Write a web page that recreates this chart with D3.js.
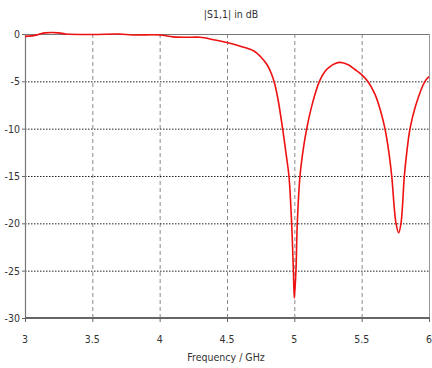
<!DOCTYPE html>
<html><head><meta charset="utf-8">
<script src="https://cdn.jsdelivr.net/npm/d3@7"></script>
<style>body{margin:0;background:#fff} text{font-family:'DejaVu Sans',sans-serif;font-size:11px;fill:#333}</style>
</head><body>
<svg id="c" width="432" height="368"></svg>
<script>
const freq = [3.0,3.05,3.1,3.15,3.25,3.3,3.5,3.7,3.8,4.0,4.1,4.2,4.3,4.4,4.5,4.6,4.7,4.75,4.8,4.83,4.855,4.88,4.913,4.94,4.96,4.98,4.993,5.0,5.012,5.022,5.042,5.065,5.092,5.135,5.186,5.23,5.265,5.3,5.34,5.4,5.45,5.5,5.55,5.6,5.64,5.673,5.7,5.723,5.755,5.775,5.792,5.817,5.835,5.859,5.9,5.97,6.0];
const s11  = [-0.25,-0.2,-0.05,0.12,0.12,0,-0.05,0,-0.1,-0.1,-0.3,-0.35,-0.35,-0.6,-0.9,-1.3,-1.8,-2.4,-3.3,-4.2,-5.3,-7.0,-10,-12.8,-15,-20,-25,-27.9,-25,-20,-15,-12.3,-10,-7.3,-5,-3.9,-3.45,-3.15,-3.0,-3.25,-3.75,-4.3,-5.1,-6.4,-8.1,-10,-12.3,-15,-20,-21,-20,-15,-12.5,-10,-7.6,-5,-4.5];
const xTicks = [3,3.5,4,4.5,5,5.5,6];
const xTickLabels = ["3","3.5","4","4.5","5","5.5","6"];
const yTicks = [0,-5,-10,-15,-20,-25,-30];
const yTickLabels = ["0","-5","-10","-15","-20","-25","-30"];
const title = "|S1,1| in dB";
const xLabel = "Frequency / GHz";

const svg = d3.select("#c");
const L=25,R=429,T=34,B=318;
const x = d3.scaleLinear().domain([3,6]).range([L,R]);
const y = d3.scaleLinear().domain([-30,0]).range([B,T]);
const SX = 0.86;
const place = (tx,ty)=>`translate(${tx},${ty}) scale(${SX},1)`;

// vertical grid
svg.append("g").selectAll("line").data(xTicks.slice(1,-1)).join("line")
  .attr("x1",d=>x(d)+0.5).attr("x2",d=>x(d)+0.5).attr("y1",T).attr("y2",B)
  .attr("stroke","#8a8a8a").attr("stroke-width",1).attr("stroke-dasharray","4,3");
// horizontal grid
svg.append("g").selectAll("line").data(yTicks.slice(1,-1)).join("line")
  .attr("x1",L).attr("x2",R).attr("y1",d=>y(d)+0.5).attr("y2",d=>y(d)+0.5)
  .attr("stroke","#222").attr("stroke-width",1).attr("stroke-dasharray","1.5,1.5");

// frame
svg.append("line").attr("x1",L).attr("x2",R).attr("y1",T+0.5).attr("y2",T+0.5).attr("stroke","#777").attr("stroke-width",1.2);
svg.append("line").attr("x1",R+0.5).attr("x2",R+0.5).attr("y1",T).attr("y2",B).attr("stroke","#999").attr("stroke-width",1);
svg.append("line").attr("x1",L+0.5).attr("x2",L+0.5).attr("y1",T).attr("y2",B).attr("stroke","#777").attr("stroke-width",1.2);
svg.append("line").attr("x1",L).attr("x2",R+1).attr("y1",B).attr("y2",B).attr("stroke","#666").attr("stroke-width",2);

// ticks
svg.append("g").selectAll("line").data(xTicks).join("line")
  .attr("x1",d=>x(d)+0.5).attr("x2",d=>x(d)+0.5).attr("y1",B).attr("y2",B+4)
  .attr("stroke","#666").attr("stroke-width",1);
svg.append("g").selectAll("line").data(yTicks).join("line")
  .attr("x1",L-3).attr("x2",L).attr("y1",d=>y(d)+0.5).attr("y2",d=>y(d)+0.5)
  .attr("stroke","#666").attr("stroke-width",1);

// tick labels
svg.append("g").selectAll("text").data(xTicks).join("text")
  .attr("transform",d=>place(x(d),B+25)).attr("text-anchor","middle")
  .text((d,i)=>xTickLabels[i]);
svg.append("g").selectAll("text").data(yTicks).join("text")
  .attr("transform",d=>place(L-5,y(d)+4)).attr("text-anchor","end")
  .text((d,i)=>yTickLabels[i]);

// curve
const line = d3.line().x((d,i)=>x(freq[i])).y((d,i)=>y(s11[i])).curve(d3.curveCatmullRom.alpha(0.5));
svg.append("path").datum(s11).attr("d",line).attr("fill","none")
  .attr("stroke","#ee1111").attr("stroke-width",1.6);

// title & label
svg.append("text").attr("transform",place(231,18)).attr("text-anchor","middle").text(title);
svg.append("text").attr("transform",place(226,361)).attr("text-anchor","middle").text(xLabel);
</script>
</body></html>
